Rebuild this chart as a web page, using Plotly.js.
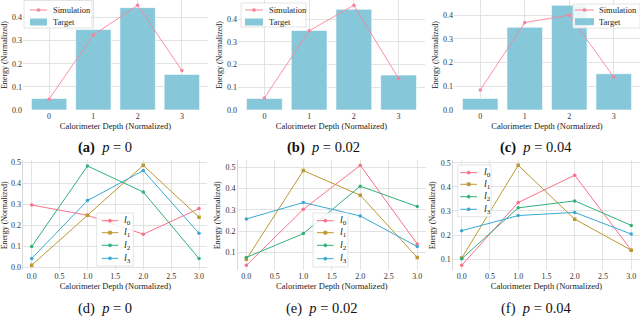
<!DOCTYPE html>
<html>
<head>
<meta charset="utf-8">
<script src="https://cdn.plot.ly/plotly-3.0.1.min.js"></script>
<style>html,body{margin:0;padding:0;background:#fff;}#chart{width:640px;height:334px;}</style>
</head>
<body>
<div id="chart"></div>
<script>
// ---- data ----
const depthCats = [0, 1, 2, 3];
const targetA = [0.050, 0.348, 0.443, 0.154];
const simA    = [0.047, 0.325, 0.453, 0.171];
const targetB = [0.051, 0.351, 0.444, 0.154];
const simB    = [0.053, 0.349, 0.462, 0.139];
const targetC = [0.049, 0.349, 0.442, 0.153];
const simC    = [0.084, 0.369, 0.400, 0.139];

const depthX = [0.0, 1.0, 2.0, 3.0];
const dL0 = [0.298, 0.249, 0.159, 0.281];
const dL1 = [0.011, 0.249, 0.487, 0.240];
const dL2 = [0.100, 0.484, 0.360, 0.043];
const dL3 = [0.043, 0.319, 0.462, 0.163];

const eL0 = [0.039, 0.302, 0.509, 0.139];
const eL1 = [0.067, 0.484, 0.368, 0.076];
const eL2 = [0.076, 0.188, 0.411, 0.315];
const eL3 = [0.257, 0.334, 0.271, 0.127];

const fL0 = [0.074, 0.335, 0.449, 0.137];
const fL1 = [0.104, 0.490, 0.266, 0.137];
const fL2 = [0.101, 0.313, 0.342, 0.240];
const fL3 = [0.218, 0.281, 0.294, 0.204];

const lineNames = ['<i>l</i><sub>0</sub>', '<i>l</i><sub>1</sub>', '<i>l</i><sub>2</sub>', '<i>l</i><sub>3</sub>'];
const barLegendNames = ['Simulation', 'Target'];
const captions = ['<b>(a)</b>  <i>p</i> = 0', '<b>(b)</b>  <i>p</i> = 0.02', '<b>(c)</b>  <i>p</i> = 0.04',
                  '(d)  <i>p</i> = 0', '(e)  <i>p</i> = 0.02', '(f)  <i>p</i> = 0.04'];
const xTitle = 'Calorimeter Depth (Normalized)';
const yTitle = 'Energy (Normalized)';

// ---- styling ----
const FONT = 'Liberation Serif, Times New Roman, serif';
const barColor = '#86c8d9';
const simColor = '#f7849a';
const lineColors = ['#f77189', '#bb9832', '#33b07a', '#3aa8d2'];
const lineSymbols = ['circle', 'square', 'circle', 'circle'];
const W = 640, H = 334;
const px = v => v / W, py = v => 1 - v / H;

const traces = [];
const layout = {
  width: W, height: H,
  margin: {l: 0, r: 0, t: 0, b: 0},
  paper_bgcolor: '#fff', plot_bgcolor: '#fff',
  font: {family: FONT, size: 8, color: '#333'},
  showlegend: false,
  annotations: [],
  shapes: []
};

// panel geometry in pixels: [left, right, top, bottom]
const panels = [
  {px: [23, 208, 0, 110],   yr: [0, 0.476], xr: [-0.59, 3.59]},
  {px: [238, 425, 0, 110],  yr: [0, 0.485], xr: [-0.59, 3.59]},
  {px: [454, 640, 0, 110],  yr: [0, 0.464], xr: [-0.59, 3.59]},
  {px: [23.3, 207.4, 160.3, 270.3], yr: [-0.013, 0.511], xr: [-0.15, 3.15]},
  {px: [237.8, 425.8, 160.3, 270.3], yr: [0.0155, 0.5325], xr: [-0.15, 3.15]},
  {px: [453.2, 639.7, 160.3, 270.3], yr: [0.0532, 0.5108], xr: [-0.15, 3.15]}
];
const capPos = [[105, 148], [323, 148], [536, 148], [105, 308], [321, 308], [536, 308]];

panels.forEach((p, i) => {
  const n = i + 1;
  const xk = 'xaxis' + (n === 1 ? '' : n), yk = 'yaxis' + (n === 1 ? '' : n);
  const isBar = i < 3;
  layout[xk] = {
    domain: [p.px[0] / W, p.px[1] / W],
    range: p.xr,
    anchor: 'y' + (n === 1 ? '' : n),
    showgrid: true, gridcolor: '#dcdcdc', gridwidth: 0.8,
    zeroline: false, showline: false,
    tickmode: isBar ? 'array' : 'linear',
    tickvals: isBar ? depthCats : undefined,
    tick0: 0, dtick: 0.5,
    tickformat: isBar ? '' : '.1f',
    ticks: '', ticklen: 0,
    tickfont: {family: FONT, size: 8, color: '#333'},
    title: {text: xTitle, font: {family: FONT, size: 8.5, color: '#222'}, standoff: 2},
    fixedrange: true
  };
  layout[yk] = {
    domain: [1 - p.px[3] / H, 1 - p.px[2] / H],
    range: p.yr,
    anchor: 'x' + (n === 1 ? '' : n),
    showgrid: true, gridcolor: '#dcdcdc', gridwidth: 0.8,
    zeroline: false, showline: i >= 3, linecolor: '#cfcfcf', linewidth: 0.8,
    dtick: 0.1, tickformat: '.1f',
    ticks: '', ticklen: 0,
    tickfont: {family: FONT, size: 8, color: '#333'},
    title: {text: yTitle, font: {family: FONT, size: 8, color: '#222'}, standoff: 3},
    fixedrange: true
  };
  layout.annotations.push({
    xref: 'paper', yref: 'paper', x: capPos[i][0] / W, y: 1 - capPos[i][1] / H,
    xanchor: 'center', yanchor: 'middle', showarrow: false,
    text: captions[i], font: {family: FONT, size: 14.5, color: '#111'}
  });
});

const barSets = [[targetA, simA], [targetB, simB], [targetC, simC]];
barSets.forEach((s, i) => {
  const n = i + 1;
  const xa = 'x' + (n === 1 ? '' : n), ya = 'y' + (n === 1 ? '' : n);
  traces.push({
    type: 'bar', x: depthCats, y: s[0], xaxis: xa, yaxis: ya, name: barLegendNames[1],
    width: 0.8, marker: {color: barColor, line: {color: '#ffffff', width: 0.6}}
  });
  traces.push({
    type: 'scatter', mode: 'lines+markers', x: depthCats, y: s[1], xaxis: xa, yaxis: ya,
    name: barLegendNames[0], line: {color: simColor, width: 0.9}, marker: {color: simColor, size: 3.5}
  });
});

const lineSets = [[dL0, dL1, dL2, dL3], [eL0, eL1, eL2, eL3], [fL0, fL1, fL2, fL3]];
lineSets.forEach((set, j) => {
  const n = j + 4;
  const xa = 'x' + n, ya = 'y' + n;
  set.forEach((vals, k) => {
    traces.push({
      type: 'scatter', mode: 'lines+markers', x: depthX, y: vals, xaxis: xa, yaxis: ya,
      name: lineNames[k], line: {color: lineColors[k], width: 1},
      marker: {color: lineColors[k], size: 3.5, symbol: lineSymbols[k]}
    });
  });
});

// ---- hand-drawn legends (compact, like matplotlib) ----
function legendBox(x0, x1, y0, y1) {
  layout.shapes.push({type: 'rect', xref: 'paper', yref: 'paper', x0: px(x0), x1: px(x1), y0: py(y1), y1: py(y0),
    fillcolor: 'rgba(255,255,255,0.85)', line: {color: '#dddddd', width: 0.8}, layer: 'above'});
}
function legendLine(x0, x1, y, color, symbol) {
  layout.shapes.push({type: 'line', xref: 'paper', yref: 'paper', x0: px(x0), x1: px(x1), y0: py(y), y1: py(y),
    line: {color: color, width: 1}, layer: 'above'});
  const c = (x0 + x1) / 2, r = 1.6;
  layout.shapes.push({type: symbol === 'square' ? 'rect' : 'circle', xref: 'paper', yref: 'paper',
    x0: px(c - r), x1: px(c + r), y0: py(y + r), y1: py(y - r),
    fillcolor: color, line: {color: color, width: 0.5}, layer: 'above'});
}
function legendPatch(x0, x1, y0, y1, color) {
  layout.shapes.push({type: 'rect', xref: 'paper', yref: 'paper', x0: px(x0), x1: px(x1), y0: py(y1), y1: py(y0),
    fillcolor: color, line: {width: 0}, layer: 'above'});
}
function legendText(x, y, text, size) {
  layout.annotations.push({xref: 'paper', yref: 'paper', x: px(x), y: py(y), xanchor: 'left', yanchor: 'middle',
    showarrow: false, text: text, font: {family: FONT, size: size, color: '#222'}});
}

// top-row legends: [boxL, boxR, boxT, boxB, swL, swR, textX, ySim, yTarget]
const topLeg = [
  [24, 92, 0.5, 28, 30, 47, 51, 10, 22],
  [241, 306, 3, 27, 245, 263, 267, 10, 22],
  [573, 640, 4, 28, 575, 594, 597, 10, 21.7]
];
topLeg.forEach(g => {
  legendBox(g[0], g[1], g[2], g[3]);
  legendLine(g[4], g[5], g[7], simColor, 'circle');
  legendText(g[6], g[7], barLegendNames[0], 8.5);
  legendPatch(g[4], g[5], g[8] - 3.5, g[8] + 3.5, barColor);
  legendText(g[6], g[8], barLegendNames[1], 8.5);
});

// bottom-row legends: [boxL, boxR, boxT, boxB, swL, swR, textX, y0, y1, y2, y3]
const botLeg = [
  [96.7, 133.3, 213, 266, 101.7, 118.3, 122, 220.7, 232.7, 245.3, 258.3],
  [313, 348, 213, 267, 317, 333.7, 337.5, 220.7, 232.7, 245.3, 258.7],
  [457.7, 491, 165, 216.7, 460.3, 477, 481.5, 172.7, 184.3, 196.7, 209.3]
];
botLeg.forEach(g => {
  legendBox(g[0], g[1], g[2], g[3]);
  for (let k = 0; k < 4; k++) {
    legendLine(g[4], g[5], g[7 + k], lineColors[k], lineSymbols[k]);
    legendText(g[6], g[7 + k], lineNames[k], 10);
  }
});

Plotly.newPlot('chart', traces, layout, {staticPlot: true, displayModeBar: false});
</script>
</body>
</html>
